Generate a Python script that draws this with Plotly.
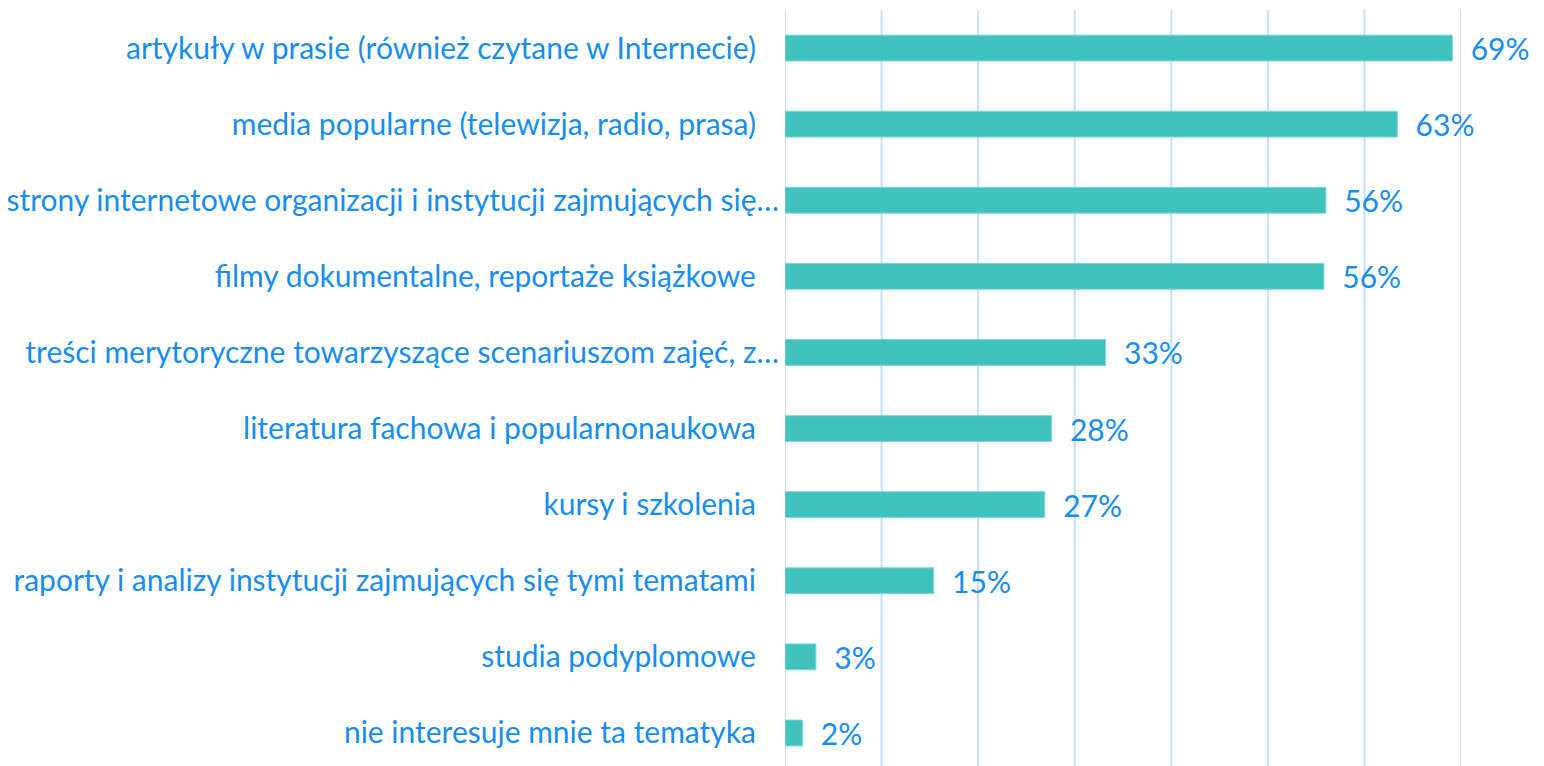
import plotly.graph_objects as go

NBSP = "\u00a0"

categories = [
    "artykuły w prasie (również czytane w Internecie)",
    "media popularne (telewizja, radio, prasa)",
    "strony internetowe organizacji i instytucji zajmujących się…",
    "filmy dokumentalne, reportaże książkowe",
    "treści merytoryczne towarzyszące scenariuszom zajęć, z…",
    "literatura fachowa i popularnonaukowa",
    "kursy i szkolenia",
    "raporty i analizy instytucji zajmujących się tymi tematami",
    "studia podyplomowe",
    "nie interesuje mnie ta tematyka",
]
truncated = [False, False, True, False, True, False, False, False, False, False]
values = [69.1, 63.4, 56.0, 55.8, 33.2, 27.6, 26.9, 15.4, 3.2, 1.8]
value_labels = ["69%", "63%", "56%", "56%", "33%", "28%", "27%", "15%", "3%", "2%"]
grid_vals = [0, 10, 20, 30, 40, 50, 60, 70]

TEXT_COLOR = "#168EF5"
BAR_COLOR = "#40C3BE"
GRID_COLOR = "#C6E2FA"
FONT = "Lato"
FONT_SIZE = 30

# etykiety bez wielokropka mają w oryginale dopisaną spację na końcu
tick_text = [c if t else c + NBSP * 3 for c, t in zip(categories, truncated)]

fig = go.Figure()
fig.add_trace(
    go.Bar(
        y=list(range(len(categories))),
        x=values,
        orientation="h",
        marker=dict(color=BAR_COLOR, line=dict(color="#7FD8D3", width=1)),
        text=[NBSP * 2 + v for v in value_labels],
        textposition="outside",
        constraintext="none",
        textfont=dict(family=FONT, size=FONT_SIZE, color=TEXT_COLOR),
        cliponaxis=False,
        hoverinfo="skip",
    )
)

# linie siatki rysowane jako kształty (plotly pomija linie na krawędziach zakresu)
for g in grid_vals:
    fig.add_shape(
        type="line", xref="x", yref="paper", x0=g, x1=g, y0=0, y1=1,
        line=dict(color=GRID_COLOR, width=2), layer="below",
    )

# strona ma 8 px marginesu body, stąd mniejsze wymiary i marginesy
fig.update_layout(
    width=1528,
    height=758,
    margin=dict(l=777, r=75, t=2, b=0),
    paper_bgcolor="white",
    plot_bgcolor="white",
    showlegend=False,
    bargap=0.66,
    font=dict(family=FONT, color=TEXT_COLOR),
)
fig.update_xaxes(
    range=[0, 70],
    showgrid=False,
    zeroline=False,
    showticklabels=False,
    showline=False,
    ticks="",
)
fig.update_yaxes(
    tickmode="array",
    tickvals=list(range(len(categories))),
    ticktext=tick_text,
    range=[9.434, -0.5],
    tickfont=dict(family=FONT, size=FONT_SIZE, color=TEXT_COLOR),
    showgrid=False,
    zeroline=False,
    showline=False,
    ticks="",
    ticklabelstandoff=5,
)

fig.write_html("out.html")
